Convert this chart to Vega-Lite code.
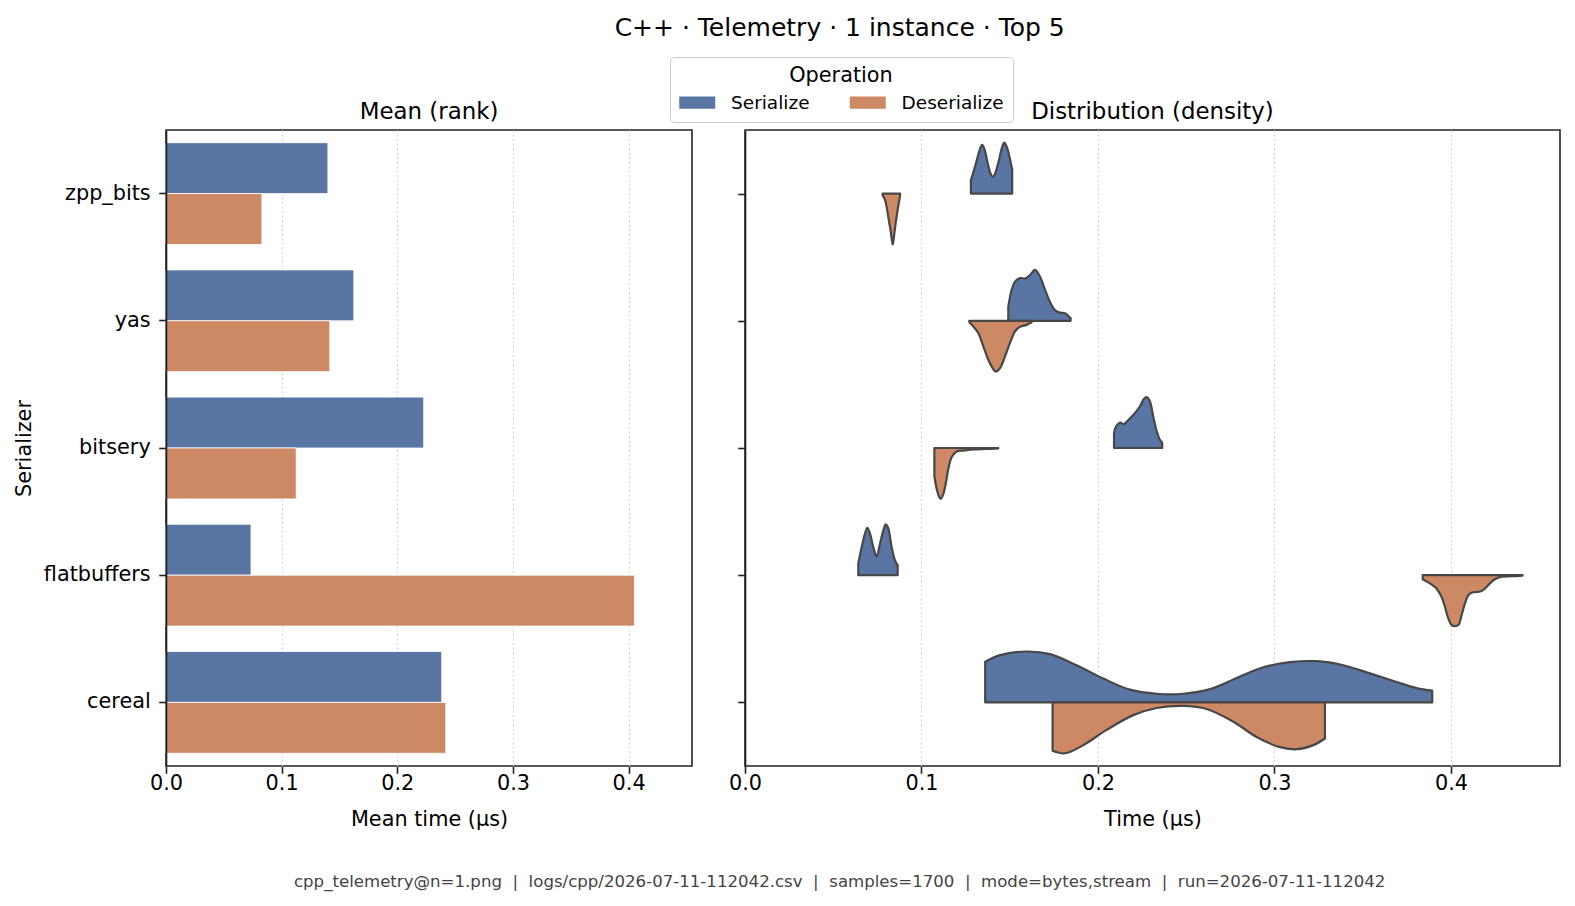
{
  "$schema": "https://vega.github.io/schema/vega-lite/v6.json",
  "background": "white",
  "padding": {"left": 12, "top": 15, "right": 5, "bottom": 5},
  "config": {
    "font": "DejaVu Sans",
    "view": {"stroke": "#222222", "strokeWidth": 1.6},
    "axis": {
      "domain": false,
      "labelFont": "DejaVu Sans", "labelFontSize": 20.8, "labelColor": "#000000",
      "titleFont": "DejaVu Sans", "titleFontSize": 20.8, "titleFontWeight": "normal", "titleColor": "#000000",
      "tickColor": "#222222", "tickWidth": 1.6, "tickSize": 7.3,
      "gridColor": "#cfcfcf", "gridDash": [1.7, 2.8], "gridWidth": 1.2
    },
    "title": {"font": "DejaVu Sans", "fontWeight": "normal", "color": "#000000"},
    "legend": {
      "orient": "none", "legendX": 504, "legendY": -73,
      "direction": "horizontal", "columns": 2,
      "titleFont": "DejaVu Sans", "titleFontSize": 20.8, "titleFontWeight": "normal", "titleColor": "#000000",
      "titleAnchor": "middle", "titleAlign": "center", "titlePadding": 6.5,
      "labelFont": "DejaVu Sans", "labelFontSize": 18.5, "labelColor": "#000000",
      "symbolType": "M-2,-0.68H2V0.68H-2Z", "symbolSize": 324, "symbolStrokeWidth": 0,
      "symbolOffset": 9, "labelOffset": 24.5, "columnPadding": 39.5,
      "padding": 9, "strokeColor": "#cccccc", "cornerRadius": 4, "fillColor": "white"
    }
  },
  "title": {
    "text": "cpp_telemetry@n=1.png \u00a0|\u00a0 logs/cpp/2026-07-11-112042.csv \u00a0|\u00a0 samples=1700 \u00a0|\u00a0 mode=bytes,stream \u00a0|\u00a0 run=2026-07-11-112042",
    "orient": "bottom", "anchor": "middle", "fontSize": 16.6, "color": "#444444", "offset": 44, "dx": 53
  },
  "vconcat": [
    {
      "title": {"text": "C++ · Telemetry · 1 instance · Top 5", "fontSize": 25, "anchor": "middle", "dx": 53, "offset": 59},
      "spacing": 53,
      "bounds": "flush",
      "hconcat": [
        {
          "width": 526,
          "height": 636,
          "title": {"text": "Mean (rank)", "fontSize": 22.9, "offset": 6.5},
          "data": {"name": "means"},
          "mark": {"type": "bar", "stroke": "white", "strokeWidth": 0.8},
          "encoding": {
            "y": {
              "field": "serializer", "type": "nominal",
              "sort": ["zpp_bits", "yas", "bitsery", "flatbuffers", "cereal"],
              "scale": {"paddingInner": 0.2, "paddingOuter": 0.1},
              "axis": {"title": "Serializer", "domain": true, "domainColor": "#222222", "domainWidth": 1.6, "zindex": 1, "labelPadding": 8.5, "titlePadding": 9}
            },
            "yOffset": {"field": "operation", "type": "nominal", "sort": ["Serialize", "Deserialize"]},
            "x": {
              "field": "mean", "type": "quantitative",
              "scale": {"domain": [0, 0.4548], "nice": false},
              "axis": {"title": "Mean time (µs)", "values": [0, 0.1, 0.2, 0.3, 0.4], "format": ".1f", "grid": true, "labelFlush": false, "labelPadding": 0.5, "titlePadding": 16}
            },
            "color": {
              "field": "operation", "type": "nominal",
              "scale": {"domain": ["Serialize", "Deserialize"], "range": ["#5875a4", "#cc8963"]},
              "legend": {"title": "Operation"}
            }
          }
        },
        {
          "width": 815,
          "height": 636,
          "title": {"text": "Distribution (density)", "fontSize": 22.9, "offset": 6.5},
          "data": {"name": "density"},
          "transform": [
            {"calculate": "indexof(['zpp_bits','yas','bitsery','flatbuffers','cereal'], datum.serializer)", "as": "row"},
            {"calculate": "datum.row + (datum.operation === 'Serialize' ? -0.4 : 0.4) * datum.density", "as": "edge"}
          ],
          "mark": {"type": "area", "orient": "vertical", "interpolate": "catmull-rom", "stroke": "#474747", "strokeWidth": 2.2, "strokeJoin": "round"},
          "encoding": {
            "x": {
              "field": "time", "type": "quantitative",
              "scale": {"domain": [0, 0.4618], "nice": false},
              "axis": {"title": "Time (µs)", "values": [0, 0.1, 0.2, 0.3, 0.4], "format": ".1f", "grid": true, "labelFlush": false, "labelPadding": 0.5, "titlePadding": 16}
            },
            "y": {
              "field": "edge", "type": "quantitative",
              "scale": {"domain": [-0.5, 4.5], "reverse": true, "nice": false, "zero": false},
              "axis": {"values": [0, 1, 2, 3, 4], "labels": false, "title": null, "grid": false, "domain": true, "domainColor": "#222222", "domainWidth": 1.6, "zindex": 1}
            },
            "y2": {"field": "row"},
            "color": {
              "field": "operation", "type": "nominal",
              "scale": {"domain": ["Serialize", "Deserialize"], "range": ["#5875a4", "#cc8963"]},
              "legend": {"title": "Operation"}
            },
            "detail": {"field": "serializer"}
          }
        }
      ]
    }
  ],
  "datasets": {
    "means": [
      {"serializer": "zpp_bits", "operation": "Serialize", "mean": 0.1400},
      {"serializer": "zpp_bits", "operation": "Deserialize", "mean": 0.0829},
      {"serializer": "yas", "operation": "Serialize", "mean": 0.1624},
      {"serializer": "yas", "operation": "Deserialize", "mean": 0.1416},
      {"serializer": "bitsery", "operation": "Serialize", "mean": 0.2228},
      {"serializer": "bitsery", "operation": "Deserialize", "mean": 0.1126},
      {"serializer": "flatbuffers", "operation": "Serialize", "mean": 0.0735},
      {"serializer": "flatbuffers", "operation": "Deserialize", "mean": 0.4050},
      {"serializer": "cereal", "operation": "Serialize", "mean": 0.2384},
      {"serializer": "cereal", "operation": "Deserialize", "mean": 0.2419}
    ],
    "density": [
      {"serializer": "zpp_bits", "operation": "Serialize", "time": 0.1280, "density": 0.26},
      {"serializer": "zpp_bits", "operation": "Serialize", "time": 0.1309, "density": 0.60},
      {"serializer": "zpp_bits", "operation": "Serialize", "time": 0.1330, "density": 0.86},
      {"serializer": "zpp_bits", "operation": "Serialize", "time": 0.1344, "density": 0.96},
      {"serializer": "zpp_bits", "operation": "Serialize", "time": 0.1358, "density": 0.86},
      {"serializer": "zpp_bits", "operation": "Serialize", "time": 0.1375, "density": 0.60},
      {"serializer": "zpp_bits", "operation": "Serialize", "time": 0.1393, "density": 0.38},
      {"serializer": "zpp_bits", "operation": "Serialize", "time": 0.1405, "density": 0.33},
      {"serializer": "zpp_bits", "operation": "Serialize", "time": 0.1418, "density": 0.40},
      {"serializer": "zpp_bits", "operation": "Serialize", "time": 0.1437, "density": 0.63},
      {"serializer": "zpp_bits", "operation": "Serialize", "time": 0.1455, "density": 0.89},
      {"serializer": "zpp_bits", "operation": "Serialize", "time": 0.1469, "density": 1.00},
      {"serializer": "zpp_bits", "operation": "Serialize", "time": 0.1483, "density": 0.92},
      {"serializer": "zpp_bits", "operation": "Serialize", "time": 0.1496, "density": 0.76},
      {"serializer": "zpp_bits", "operation": "Serialize", "time": 0.1514, "density": 0.47},

      {"serializer": "zpp_bits", "operation": "Deserialize", "time": 0.0780, "density": 0.04},
      {"serializer": "zpp_bits", "operation": "Deserialize", "time": 0.0793, "density": 0.12},
      {"serializer": "zpp_bits", "operation": "Deserialize", "time": 0.0814, "density": 0.50},
      {"serializer": "zpp_bits", "operation": "Deserialize", "time": 0.0826, "density": 0.75},
      {"serializer": "zpp_bits", "operation": "Deserialize", "time": 0.0837, "density": 1.00},
      {"serializer": "zpp_bits", "operation": "Deserialize", "time": 0.0847, "density": 0.76},
      {"serializer": "zpp_bits", "operation": "Deserialize", "time": 0.0857, "density": 0.50},
      {"serializer": "zpp_bits", "operation": "Deserialize", "time": 0.0873, "density": 0.15},
      {"serializer": "zpp_bits", "operation": "Deserialize", "time": 0.0879, "density": 0.04},

      {"serializer": "yas", "operation": "Serialize", "time": 0.1492, "density": 0.28},
      {"serializer": "yas", "operation": "Serialize", "time": 0.1511, "density": 0.61},
      {"serializer": "yas", "operation": "Serialize", "time": 0.1530, "density": 0.77},
      {"serializer": "yas", "operation": "Serialize", "time": 0.1560, "density": 0.84},
      {"serializer": "yas", "operation": "Serialize", "time": 0.1586, "density": 0.83},
      {"serializer": "yas", "operation": "Serialize", "time": 0.1615, "density": 0.90},
      {"serializer": "yas", "operation": "Serialize", "time": 0.1643, "density": 1.00},
      {"serializer": "yas", "operation": "Serialize", "time": 0.1671, "density": 0.87},
      {"serializer": "yas", "operation": "Serialize", "time": 0.1699, "density": 0.62},
      {"serializer": "yas", "operation": "Serialize", "time": 0.1728, "density": 0.37},
      {"serializer": "yas", "operation": "Serialize", "time": 0.1756, "density": 0.21},
      {"serializer": "yas", "operation": "Serialize", "time": 0.1784, "density": 0.16},
      {"serializer": "yas", "operation": "Serialize", "time": 0.1813, "density": 0.15},
      {"serializer": "yas", "operation": "Serialize", "time": 0.1845, "density": 0.05},

      {"serializer": "yas", "operation": "Deserialize", "time": 0.1271, "density": 0.03},
      {"serializer": "yas", "operation": "Deserialize", "time": 0.1293, "density": 0.11},
      {"serializer": "yas", "operation": "Deserialize", "time": 0.1322, "density": 0.24},
      {"serializer": "yas", "operation": "Deserialize", "time": 0.1350, "density": 0.50},
      {"serializer": "yas", "operation": "Deserialize", "time": 0.1378, "density": 0.76},
      {"serializer": "yas", "operation": "Deserialize", "time": 0.1407, "density": 0.95},
      {"serializer": "yas", "operation": "Deserialize", "time": 0.1422, "density": 1.00},
      {"serializer": "yas", "operation": "Deserialize", "time": 0.1445, "density": 0.93},
      {"serializer": "yas", "operation": "Deserialize", "time": 0.1473, "density": 0.70},
      {"serializer": "yas", "operation": "Deserialize", "time": 0.1501, "density": 0.44},
      {"serializer": "yas", "operation": "Deserialize", "time": 0.1530, "density": 0.21},
      {"serializer": "yas", "operation": "Deserialize", "time": 0.1558, "density": 0.12},
      {"serializer": "yas", "operation": "Deserialize", "time": 0.1596, "density": 0.08},
      {"serializer": "yas", "operation": "Deserialize", "time": 0.1624, "density": 0.03},

      {"serializer": "bitsery", "operation": "Serialize", "time": 0.2091, "density": 0.29},
      {"serializer": "bitsery", "operation": "Serialize", "time": 0.2102, "density": 0.42},
      {"serializer": "bitsery", "operation": "Serialize", "time": 0.2125, "density": 0.50},
      {"serializer": "bitsery", "operation": "Serialize", "time": 0.2147, "density": 0.47},
      {"serializer": "bitsery", "operation": "Serialize", "time": 0.2172, "density": 0.55},
      {"serializer": "bitsery", "operation": "Serialize", "time": 0.2210, "density": 0.69},
      {"serializer": "bitsery", "operation": "Serialize", "time": 0.2238, "density": 0.82},
      {"serializer": "bitsery", "operation": "Serialize", "time": 0.2261, "density": 0.97},
      {"serializer": "bitsery", "operation": "Serialize", "time": 0.2276, "density": 1.00},
      {"serializer": "bitsery", "operation": "Serialize", "time": 0.2295, "density": 0.91},
      {"serializer": "bitsery", "operation": "Serialize", "time": 0.2313, "density": 0.62},
      {"serializer": "bitsery", "operation": "Serialize", "time": 0.2333, "density": 0.33},
      {"serializer": "bitsery", "operation": "Serialize", "time": 0.2351, "density": 0.16},
      {"serializer": "bitsery", "operation": "Serialize", "time": 0.2364, "density": 0.10},

      {"serializer": "bitsery", "operation": "Deserialize", "time": 0.1073, "density": 0.55},
      {"serializer": "bitsery", "operation": "Deserialize", "time": 0.1086, "density": 0.80},
      {"serializer": "bitsery", "operation": "Deserialize", "time": 0.1100, "density": 0.96},
      {"serializer": "bitsery", "operation": "Deserialize", "time": 0.1109, "density": 1.00},
      {"serializer": "bitsery", "operation": "Deserialize", "time": 0.1124, "density": 0.90},
      {"serializer": "bitsery", "operation": "Deserialize", "time": 0.1139, "density": 0.67},
      {"serializer": "bitsery", "operation": "Deserialize", "time": 0.1152, "density": 0.41},
      {"serializer": "bitsery", "operation": "Deserialize", "time": 0.1171, "density": 0.18},
      {"serializer": "bitsery", "operation": "Deserialize", "time": 0.1199, "density": 0.07},
      {"serializer": "bitsery", "operation": "Deserialize", "time": 0.1237, "density": 0.05},
      {"serializer": "bitsery", "operation": "Deserialize", "time": 0.1293, "density": 0.03},
      {"serializer": "bitsery", "operation": "Deserialize", "time": 0.1369, "density": 0.02},
      {"serializer": "bitsery", "operation": "Deserialize", "time": 0.1435, "density": 0.01},

      {"serializer": "flatbuffers", "operation": "Serialize", "time": 0.0642, "density": 0.23},
      {"serializer": "flatbuffers", "operation": "Serialize", "time": 0.0661, "density": 0.55},
      {"serializer": "flatbuffers", "operation": "Serialize", "time": 0.0680, "density": 0.82},
      {"serializer": "flatbuffers", "operation": "Serialize", "time": 0.0693, "density": 0.93},
      {"serializer": "flatbuffers", "operation": "Serialize", "time": 0.0708, "density": 0.82},
      {"serializer": "flatbuffers", "operation": "Serialize", "time": 0.0727, "density": 0.55},
      {"serializer": "flatbuffers", "operation": "Serialize", "time": 0.0746, "density": 0.37},
      {"serializer": "flatbuffers", "operation": "Serialize", "time": 0.0765, "density": 0.62},
      {"serializer": "flatbuffers", "operation": "Serialize", "time": 0.0784, "density": 0.88},
      {"serializer": "flatbuffers", "operation": "Serialize", "time": 0.0797, "density": 1.00},
      {"serializer": "flatbuffers", "operation": "Serialize", "time": 0.0812, "density": 0.92},
      {"serializer": "flatbuffers", "operation": "Serialize", "time": 0.0831, "density": 0.55},
      {"serializer": "flatbuffers", "operation": "Serialize", "time": 0.0850, "density": 0.29},
      {"serializer": "flatbuffers", "operation": "Serialize", "time": 0.0865, "density": 0.20},

      {"serializer": "flatbuffers", "operation": "Deserialize", "time": 0.3840, "density": 0.08},
      {"serializer": "flatbuffers", "operation": "Deserialize", "time": 0.3871, "density": 0.14},
      {"serializer": "flatbuffers", "operation": "Deserialize", "time": 0.3918, "density": 0.26},
      {"serializer": "flatbuffers", "operation": "Deserialize", "time": 0.3946, "density": 0.42},
      {"serializer": "flatbuffers", "operation": "Deserialize", "time": 0.3966, "density": 0.62},
      {"serializer": "flatbuffers", "operation": "Deserialize", "time": 0.3985, "density": 0.85},
      {"serializer": "flatbuffers", "operation": "Deserialize", "time": 0.4004, "density": 0.98},
      {"serializer": "flatbuffers", "operation": "Deserialize", "time": 0.4023, "density": 1.00},
      {"serializer": "flatbuffers", "operation": "Deserialize", "time": 0.4042, "density": 0.98},
      {"serializer": "flatbuffers", "operation": "Deserialize", "time": 0.4061, "density": 0.78},
      {"serializer": "flatbuffers", "operation": "Deserialize", "time": 0.4079, "density": 0.56},
      {"serializer": "flatbuffers", "operation": "Deserialize", "time": 0.4099, "density": 0.39},
      {"serializer": "flatbuffers", "operation": "Deserialize", "time": 0.4118, "density": 0.34},
      {"serializer": "flatbuffers", "operation": "Deserialize", "time": 0.4146, "density": 0.33},
      {"serializer": "flatbuffers", "operation": "Deserialize", "time": 0.4174, "density": 0.31},
      {"serializer": "flatbuffers", "operation": "Deserialize", "time": 0.4193, "density": 0.26},
      {"serializer": "flatbuffers", "operation": "Deserialize", "time": 0.4221, "density": 0.16},
      {"serializer": "flatbuffers", "operation": "Deserialize", "time": 0.4249, "density": 0.08},
      {"serializer": "flatbuffers", "operation": "Deserialize", "time": 0.4287, "density": 0.03},
      {"serializer": "flatbuffers", "operation": "Deserialize", "time": 0.4353, "density": 0.02},
      {"serializer": "flatbuffers", "operation": "Deserialize", "time": 0.4406, "density": 0.01},

      {"serializer": "cereal", "operation": "Serialize", "time": 0.1361, "density": 0.80},
      {"serializer": "cereal", "operation": "Serialize", "time": 0.1445, "density": 0.93},
      {"serializer": "cereal", "operation": "Serialize", "time": 0.1596, "density": 1.00},
      {"serializer": "cereal", "operation": "Serialize", "time": 0.1728, "density": 0.95},
      {"serializer": "cereal", "operation": "Serialize", "time": 0.1879, "density": 0.73},
      {"serializer": "cereal", "operation": "Serialize", "time": 0.2030, "density": 0.47},
      {"serializer": "cereal", "operation": "Serialize", "time": 0.2181, "density": 0.25},
      {"serializer": "cereal", "operation": "Serialize", "time": 0.2333, "density": 0.17},
      {"serializer": "cereal", "operation": "Serialize", "time": 0.2483, "density": 0.17},
      {"serializer": "cereal", "operation": "Serialize", "time": 0.2635, "density": 0.26},
      {"serializer": "cereal", "operation": "Serialize", "time": 0.2786, "density": 0.48},
      {"serializer": "cereal", "operation": "Serialize", "time": 0.2937, "density": 0.69},
      {"serializer": "cereal", "operation": "Serialize", "time": 0.3088, "density": 0.79},
      {"serializer": "cereal", "operation": "Serialize", "time": 0.3239, "density": 0.81},
      {"serializer": "cereal", "operation": "Serialize", "time": 0.3390, "density": 0.73},
      {"serializer": "cereal", "operation": "Serialize", "time": 0.3541, "density": 0.57},
      {"serializer": "cereal", "operation": "Serialize", "time": 0.3692, "density": 0.40},
      {"serializer": "cereal", "operation": "Serialize", "time": 0.3806, "density": 0.28},
      {"serializer": "cereal", "operation": "Serialize", "time": 0.3894, "density": 0.23},

      {"serializer": "cereal", "operation": "Deserialize", "time": 0.1743, "density": 0.95},
      {"serializer": "cereal", "operation": "Deserialize", "time": 0.1813, "density": 1.00},
      {"serializer": "cereal", "operation": "Deserialize", "time": 0.1917, "density": 0.84},
      {"serializer": "cereal", "operation": "Deserialize", "time": 0.2049, "density": 0.54},
      {"serializer": "cereal", "operation": "Deserialize", "time": 0.2200, "density": 0.25},
      {"serializer": "cereal", "operation": "Deserialize", "time": 0.2333, "density": 0.11},
      {"serializer": "cereal", "operation": "Deserialize", "time": 0.2483, "density": 0.07},
      {"serializer": "cereal", "operation": "Deserialize", "time": 0.2616, "density": 0.13},
      {"serializer": "cereal", "operation": "Deserialize", "time": 0.2767, "density": 0.38},
      {"serializer": "cereal", "operation": "Deserialize", "time": 0.2899, "density": 0.68},
      {"serializer": "cereal", "operation": "Deserialize", "time": 0.3031, "density": 0.88},
      {"serializer": "cereal", "operation": "Deserialize", "time": 0.3126, "density": 0.92},
      {"serializer": "cereal", "operation": "Deserialize", "time": 0.3220, "density": 0.84},
      {"serializer": "cereal", "operation": "Deserialize", "time": 0.3286, "density": 0.71}
    ]
  }
}
